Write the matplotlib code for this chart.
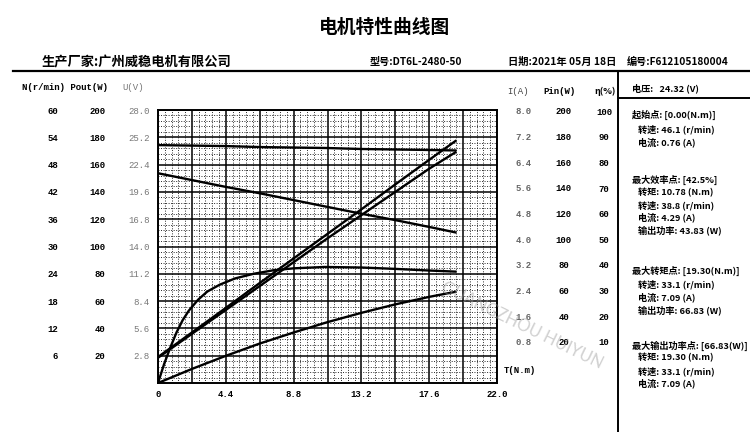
import matplotlib
matplotlib.use('Agg')
import matplotlib.pyplot as plt
import numpy as np
from matplotlib.ticker import MultipleLocator

CJK = ['Noto Sans CJK SC', 'DejaVu Sans']
MONO = ['Liberation Mono', 'DejaVu Sans Mono']

# ---- data ----
torque = [0, 2.2, 4.4, 6.6, 8.8, 11.0, 13.2, 15.4, 17.6, 19.3]      # T (N.m)
speed = [46.1, 44.6, 43.1, 41.7, 40.2, 38.7, 37.2, 35.8, 34.3, 33.1]  # N (r/min)
current = [0.76, 1.48, 2.20, 2.93, 3.65, 4.37, 5.09, 5.82, 6.54, 7.09]  # I (A)
p_in = [18.5, 36, 53.5, 71, 88.5, 106, 123, 140, 157, 169]          # Pin (W)
p_out = [0, 10.3, 19.9, 28.9, 37.0, 44.6, 51.4, 57.6, 63.1, 66.8]   # Pout (W)
voltage = [24.4, 24.35, 24.3, 24.2, 24.15, 24.1, 24.0, 23.95, 23.9, 23.85]  # U (V)

torque_eff = [0, 0.4, 0.8, 1.2, 1.6, 2.0, 2.6, 3.2, 4.0, 5.0, 6.2, 7.5, 8.8,
              10.8, 13.2, 15.4, 17.6, 19.3]
efficiency = [0, 7, 13, 18.5, 23, 26.5, 30.5, 33.5, 36, 38.3, 40, 41.3, 42,
              42.5, 42.3, 41.8, 41.2, 40.8]

x_ticks = [0, 2.2, 4.4, 6.6, 8.8, 11.0, 13.2, 15.4, 17.6, 19.8, 22.0]
x_labels = ['0', '', '4.4', '', '8.8', '', '13.2', '', '17.6', '', '22.0']
u_ticks = [2.8, 5.6, 8.4, 11.2, 14.0, 16.8, 19.6, 22.4, 25.2, 28.0]
n_ticks = [6, 12, 18, 24, 30, 36, 42, 48, 54, 60]
pout_ticks = [20, 40, 60, 80, 100, 120, 140, 160, 180, 200]
i_ticks = [0.8, 1.6, 2.4, 3.2, 4.0, 4.8, 5.6, 6.4, 7.2, 8.0]
pin_ticks = [20, 40, 60, 80, 100, 120, 140, 160, 180, 200]
eff_ticks = [10, 20, 30, 40, 50, 60, 70, 80, 90, 100]

W, H = 750, 432
fig = plt.figure(figsize=(7.5, 4.32), dpi=100)


def px(x, y):
    return x / W, 1 - y / H


# main grid axes (U scale)
L, R, T, B = 158, 497, 110, 383
ax = fig.add_axes([L / W, 1 - B / H, (R - L) / W, (B - T) / H])
ax.set_xlim(0, 22)
ax.set_ylim(0, 28)
ax.set_xticks(x_ticks, x_labels)
ax.set_yticks(u_ticks, [f'{v:.1f}' for v in u_ticks])
ax.xaxis.set_minor_locator(MultipleLocator(0.44))
ax.yaxis.set_minor_locator(MultipleLocator(0.56))
ax.grid(which='major', color='black', lw=1.1)
ax.grid(which='minor', color='#2a2a2a', lw=0.7, ls=(0, (1, 1.6)))
ax.set_axisbelow(True)
ax.tick_params(which='both', length=0)
ax.tick_params(axis='y', pad=6, labelsize=6.5, labelcolor='#777777')
ax.tick_params(axis='x', pad=5, labelsize=6.5)
for lab in ax.get_yticklabels():
    lab.set_family(MONO)
for lab in ax.get_xticklabels():
    lab.set_family(MONO)
    lab.set_fontweight('bold')
for s in ax.spines.values():
    s.set_linewidth(1.4)


def label_axis(lim, ticks, labels, side, offset, color, ha):
    a = ax.twinx()
    a.set_ylim(*lim)
    if side == 'left':
        a.yaxis.tick_left()
    else:
        a.yaxis.tick_right()
    a.spines[side].set_position(('outward', offset))
    for s in a.spines.values():
        s.set_visible(False)
    a.set_yticks(ticks, labels)
    a.tick_params(axis='y', length=0, pad=0, labelsize=6.5, labelcolor=color)
    for lab in a.get_yticklabels():
        lab.set_family(MONO)
        lab.set_fontweight('bold')
        lab.set_ha(ha)
    return a


ax_n = label_axis((0, 60), n_ticks, [str(v) for v in n_ticks], 'left', 72, 'black', 'right')
ax_pout = label_axis((0, 200), pout_ticks, [str(v) for v in pout_ticks], 'left', 38, 'black', 'right')
label_axis((-0.48, 8.03), i_ticks, [f'{v:.1f}' for v in i_ticks], 'right', 19, '#666666', 'center')
label_axis((-12, 200.75), pin_ticks, [str(v) for v in pin_ticks], 'right', 48, 'black', 'center')
label_axis((-6, 100.4), eff_ticks, [str(v) for v in eff_ticks], 'right', 77, 'black', 'center')


def curve_axis(top):
    a = ax.twinx()
    a.set_ylim(0, top)
    a.set_yticks([])
    for s in a.spines.values():
        s.set_visible(False)
    return a


lw = 1.7
ax.plot(torque, voltage, color='black', lw=lw)
ax_n.plot(torque, speed, color='black', lw=lw)
ax_pout.plot(torque, p_out, color='black', lw=lw)
curve_axis(8.0).plot(torque, current, color='black', lw=lw)
curve_axis(200).plot(torque, p_in, color='black', lw=lw)
curve_axis(100).plot(torque_eff, efficiency, color='black', lw=lw)

ax.text(1.02, 0.045, 'T(N.m)', transform=ax.transAxes, fontsize=6.5,
        family=MONO, fontweight='bold', va='center', ha='left')

# column headers
fig.text(*px(22, 88), 'N(r/min) Pout(W)', fontsize=6.5, family=MONO,
         fontweight='bold', va='center')
fig.text(*px(122, 88), 'U(V)', fontsize=6.5, family=MONO, color='#777777', va='center')
fig.text(*px(518, 91), 'I(A)', fontsize=6.5, family=MONO, color='#444444', va='center', ha='center')
fig.text(*px(560, 91), 'Pin(W)', fontsize=6.5, family=MONO, fontweight='bold', va='center', ha='center')
fig.text(*px(605, 91), 'η(%)', fontsize=6.5, family=CJK, fontweight='bold', va='center', ha='center')

# title and header row
fig.text(*px(385, 27), '电机特性曲线图', fontsize=13.5, family=CJK,
         fontweight='bold', ha='center', va='center')
fig.text(*px(42, 62), '生产厂家:广州威稳电机有限公司', fontsize=9.5, family=CJK,
         fontweight='bold', va='center')
fig.text(*px(370, 62), '型号:DT6L-2480-50', fontsize=7.3, family=CJK,
         fontweight='bold', va='center')
fig.text(*px(508, 62), '日期:2021年 05月 18日', fontsize=7.4, family=CJK,
         fontweight='bold', va='center')
fig.text(*px(627, 62), '编号:F612105180004', fontsize=7.3, family=CJK,
         fontweight='bold', va='center')

# frame lines
fig.add_artist(plt.Line2D([13 / W, 1], [1 - 71 / H] * 2, color='black', lw=1.6,
                          transform=fig.transFigure))
fig.add_artist(plt.Line2D([618 / W] * 2, [1 - 71 / H, 0], color='black', lw=1.4,
                          transform=fig.transFigure))
fig.add_artist(plt.Line2D([618 / W, 1], [1 - 98 / H] * 2, color='black', lw=1.4,
                          transform=fig.transFigure))

# right info panel
panel = [
    (632, 88, '电压:   24.32 (V)'),
    (632, 115, '起始点: [0.00(N.m)]'),
    (638, 129, '转速: 46.1 (r/min)'),
    (638, 142, '电流: 0.76 (A)'),
    (632, 180, '最大效率点: [42.5%]'),
    (638, 193, '转矩: 10.78 (N.m)'),
    (638, 205, '转速: 38.8 (r/min)'),
    (638, 217, '电流: 4.29 (A)'),
    (638, 230, '输出功率: 43.83 (W)'),
    (632, 271, '最大转矩点: [19.30(N.m)]'),
    (638, 284, '转速: 33.1 (r/min)'),
    (638, 297, '电流: 7.09 (A)'),
    (638, 310, '输出功率: 66.83 (W)'),
    (632, 346, '最大输出功率点: [66.83(W)]'),
    (638, 358, '转矩: 19.30 (N.m)'),
    (638, 371, '转速: 33.1 (r/min)'),
    (638, 383, '电流: 7.09 (A)'),
]
for x, y, s in panel:
    fig.text(*px(x, y), s, fontsize=6.6, family=CJK, fontweight='bold', va='center')

# watermark
fig.text(*px(522, 325), 'GUANGZHOU HUIYUN', fontsize=12, family=['Lato', 'DejaVu Sans'],
         color='#9a9a9a', alpha=0.45, rotation=-26, ha='center', va='center')

fig.savefig('out.png', dpi=100, facecolor='white')
